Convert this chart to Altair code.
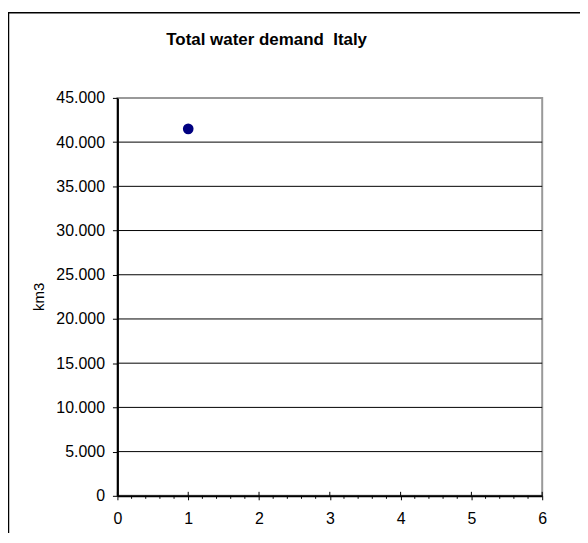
import altair as alt
import pandas as pd

# data
x_vals = [1]
demand = [41500]
y_ticks = [0, 5000, 10000, 15000, 20000, 25000, 30000, 35000, 40000, 45000]
grid_vals = [5000, 10000, 15000, 20000, 25000, 30000, 35000, 40000]
x_ticks = [0, 1, 2, 3, 4, 5, 6]
x_minor = [0.2, 0.4, 0.6, 0.8, 1.2, 1.4, 1.6, 1.8, 2.2, 2.4, 2.6, 2.8,
           3.2, 3.4, 3.6, 3.8, 4.2, 4.4, 4.6, 4.8, 5.2, 5.4, 5.6, 5.8]
title_text = "Total water demand\u00a0\u00a0Italy"
y_title = "km3"

W, H = 427, 400
FONT = "Liberation Sans"

xs = alt.Scale(domain=[0, 6], nice=False)
ys = alt.Scale(domain=[0, 45000], nice=False)

x_axis = alt.Axis(
    values=x_ticks, title=None, grid=False, tickSize=4, tickColor="black",
    domainColor="black", domainWidth=2, labelFontSize=16, labelFont=FONT,
    labelColor="black", labelPadding=11, labelFlush=False)
y_axis = alt.Axis(
    values=y_ticks, title=None, grid=False, tickSize=5, tickColor="black",
    domainColor="black", domainWidth=2, labelFontSize=16, labelFont=FONT,
    labelColor="black", labelPadding=8,
    labelExpr="replace(format(datum.value, ','), ',', '.')")

one = pd.DataFrame({"a": [0]})

border = alt.Chart(one).mark_rect(fill=None, stroke="black", strokeWidth=1.5, clip=False).encode(
    x=alt.value(-109.5), x2=alt.value(700), y=alt.value(-85.5), y2=alt.value(700)
)

grid = alt.Chart(pd.DataFrame({"g": grid_vals})).mark_rule(color="black", strokeWidth=1).encode(
    y=alt.Y("g:Q", scale=ys, axis=y_axis)
)

pts = alt.Chart(pd.DataFrame({"x": x_vals, "y": demand})).mark_circle(
    size=115, color="#000080", opacity=1
).encode(
    x=alt.X("x:Q", scale=xs, axis=x_axis),
    y=alt.Y("y:Q", scale=ys, axis=y_axis),
)

minor = alt.Chart(pd.DataFrame({"m": x_minor})).mark_rule(color="black", strokeWidth=1, clip=False).encode(
    x=alt.X("m:Q", scale=xs, axis=x_axis), y=alt.value(H), y2=alt.value(H + 3)
)
major_up = alt.Chart(pd.DataFrame({"t": x_ticks})).mark_rule(color="black", strokeWidth=1, clip=False).encode(
    x=alt.X("t:Q", scale=xs, axis=x_axis), y=alt.value(H - 4), y2=alt.value(H)
)

title = alt.Chart(pd.DataFrame({"t": [title_text]})).mark_text(
    font=FONT, fontSize=17, fontWeight="bold", color="black", baseline="alphabetic", align="center", clip=False
).encode(text="t:N", x=alt.value(150), y=alt.value(-53))

ytitle = alt.Chart(pd.DataFrame({"t": [y_title]})).mark_text(
    font=FONT, fontSize=15, color="black", angle=270, baseline="middle", align="center", clip=False
).encode(text="t:N", x=alt.value(-79), y=alt.value(H / 2))

chart = alt.layer(border, grid, minor, major_up, pts, title, ytitle).properties(
    width=W, height=H,
    padding={"left": 110, "top": 89, "right": 38, "bottom": 36},
    autosize=alt.AutoSizeParams(type="none"),
    background="white",
).configure_view(stroke="#999999", strokeWidth=2)

chart.save("out.html", embed_options={"renderer": "svg", "actions": False})
